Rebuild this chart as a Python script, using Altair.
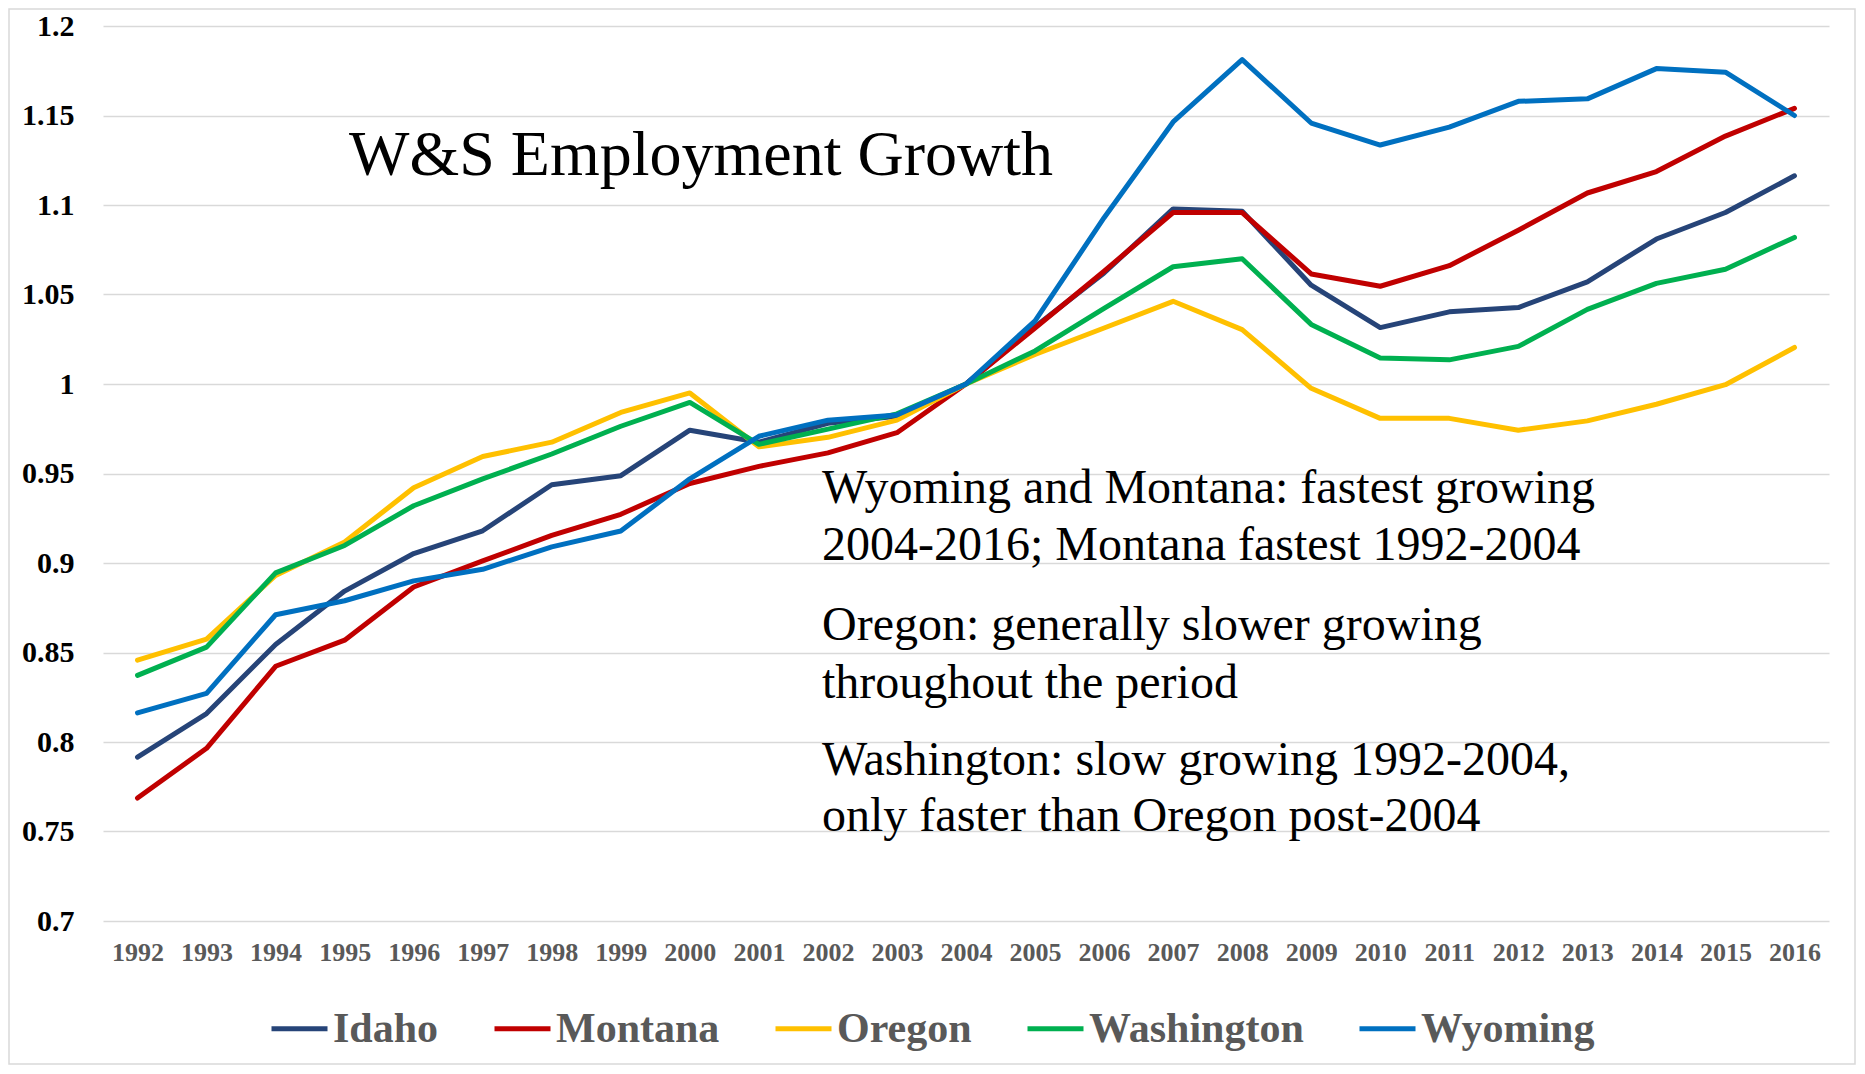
import altair as alt
import pandas as pd

years = [str(y) for y in range(1992, 2017)]
states = ["Idaho", "Montana", "Oregon", "Washington", "Wyoming"]
colors = ["#264478", "#C00000", "#FFC000", "#00B050", "#0070C0"]

idaho = [0.7915, 0.8159, 0.8545, 0.8843, 0.9053, 0.9180, 0.9437, 0.9488, 0.9742, 0.9675,
         0.9780, 0.9820, 1.0000, 1.0320, 1.0620, 1.0978, 1.0965, 1.0552, 1.0315, 1.0403,
         1.0427, 1.0571, 1.0810, 1.0958, 1.1163]
montana = [0.7687, 0.7965, 0.8423, 0.8569, 0.8866, 0.9012, 0.9154, 0.9272, 0.9444, 0.9540,
           0.9615, 0.9728, 1.0000, 1.0313, 1.0630, 1.0958, 1.0958, 1.0615, 1.0546, 1.0661,
           1.0859, 1.1067, 1.1187, 1.1385, 1.1540]
oregon = [0.8457, 0.8575, 0.8930, 0.9118, 0.9420, 0.9595, 0.9675, 0.9841, 0.9950, 0.9649,
          0.9702, 0.9798, 1.0000, 1.0165, 1.0313, 1.0462, 1.0304, 0.9976, 0.9808, 0.9808,
          0.9742, 0.9794, 0.9887, 0.9996, 1.0204]
washington = [0.8372, 0.8530, 0.8945, 0.9098, 0.9320, 0.9470, 0.9609, 0.9764, 0.9897, 0.9663,
              0.9748, 0.9833, 1.0000, 1.0185, 1.0423, 1.0655, 1.0700, 1.0333, 1.0145, 1.0135,
              1.0210, 1.0417, 1.0562, 1.0641, 1.0819]
wyoming = [0.8163, 0.8272, 0.8711, 0.8789, 0.8900, 0.8965, 0.9090, 0.9179, 0.9470, 0.9708,
           0.9798, 0.9827, 1.0000, 1.0353, 1.0929, 1.1464, 1.1812, 1.1458, 1.1335, 1.1435,
           1.1579, 1.1593, 1.1762, 1.1742, 1.1500]

y_ticks = [0.7, 0.75, 0.8, 0.85, 0.9, 0.95, 1.0, 1.05, 1.1, 1.15, 1.2]

chart_title = "W&S Employment Growth"
notes = [
    "Wyoming and Montana: fastest growing",
    "2004-2016; Montana fastest 1992-2004",
    "Oregon: generally slower growing",
    "throughout the period",
    "Washington: slow growing 1992-2004,",
    "only faster than Oregon post-2004",
]

series = [idaho, montana, oregon, washington, wyoming]
rows = []
for s, vals in zip(states, series):
    for yr, v in zip(years, vals):
        rows.append({"Year": yr, "State": s, "Value": v})
df = pd.DataFrame(rows)

SERIF = "Liberation Serif"
W, H = 1726, 895

lines = alt.Chart(df).mark_line(strokeWidth=5, strokeJoin="round", strokeCap="round").encode(
    x=alt.X("Year:O", sort=years, title=None,
            scale=alt.Scale(type="point", padding=0.5),
            axis=alt.Axis(labelAngle=0, labelFont=SERIF, labelFontSize=26, labelFontWeight="bold",
                          labelColor="#595959", ticks=False, tickSize=0, domain=False,
                          labelPadding=18, grid=False, labelOverlap=False)),
    y=alt.Y("Value:Q", title=None,
            scale=alt.Scale(domain=[0.7, 1.2], nice=False, zero=False),
            axis=alt.Axis(values=y_ticks, format=".3~g", labelFont=SERIF, labelFontSize=30,
                          labelFontWeight="bold", labelColor="#000000", ticks=False, tickSize=0,
                          domain=False, labelPadding=29, grid=True, gridColor="#d9d9d9",
                          gridWidth=1.5)),
    color=alt.Color("State:N", sort=states,
                    scale=alt.Scale(domain=states, range=colors),
                    legend=alt.Legend(title=None, orient="none", direction="horizontal",
                                      columns=5, legendX=166, legendY=972, padding=0,
                                      symbolType="stroke", symbolSize=3136, symbolStrokeWidth=5,
                                      labelFont=SERIF, labelFontSize=42, labelFontWeight="bold",
                                      labelColor="#595959", labelOffset=3, columnPadding=45,
                                      labelLimit=400)),
)

one = alt.Data(values=[{"k": 1}])

border = alt.Chart(one).mark_rect(fill=None, stroke="#d9d9d9", strokeWidth=1.5).encode(
    x=alt.value(-94), x2=alt.value(1752), y=alt.value(-17), y2=alt.value(1038)
)

title_txt = alt.Chart(one).mark_text(
    text=chart_title, font=SERIF, fontSize=64, align="left", baseline="alphabetic", color="#000000"
).encode(x=alt.value(246), y=alt.value(149))

note_baselines = [477, 534, 614, 672, 749, 805]
note_layers = []
for txt, yb in zip(notes, note_baselines):
    note_layers.append(
        alt.Chart(one).mark_text(
            text=txt, font=SERIF, fontSize=48, align="left", baseline="alphabetic", color="#000000"
        ).encode(x=alt.value(719), y=alt.value(yb))
    )

chart = alt.layer(border, lines, title_txt, *note_layers).properties(
    width=W, height=H,
    autosize=alt.AutoSizeParams(type="none"),
    padding={"left": 95, "top": 18, "right": 28, "bottom": 145},
    background="white",
).configure_view(stroke=None)

chart.save("out.html", embed_options={"renderer": "svg", "actions": False})
